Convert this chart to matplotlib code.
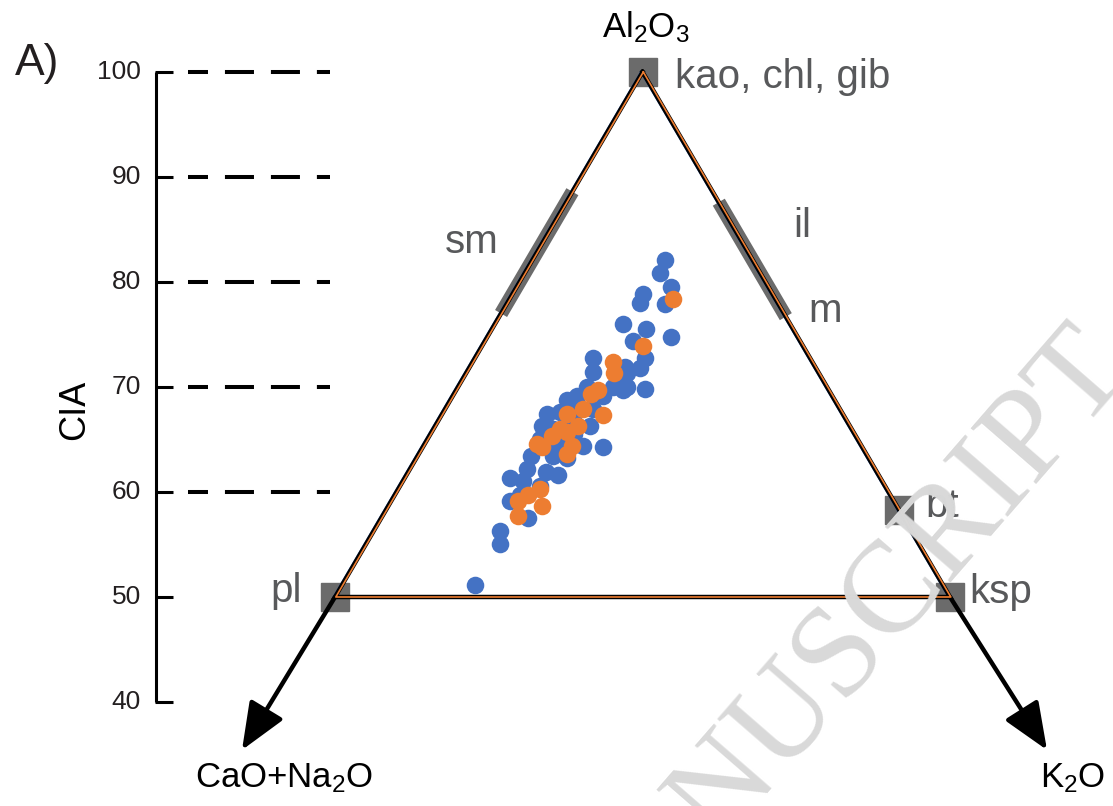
import matplotlib
matplotlib.use('Agg')
import matplotlib.pyplot as plt
import matplotlib.transforms as mtransforms

plt.rcParams['font.family'] = ['Liberation Sans', 'DejaVu Sans']
plt.rcParams['mathtext.fontset'] = 'custom'
plt.rcParams['mathtext.rm'] = 'Liberation Sans'
plt.rcParams['mathtext.it'] = 'Liberation Sans:italic'
plt.rcParams['lines.scale_dashes'] = False

# sample compositions in molar %: A = Al2O3, K = K2O  (CN = 100 - A - K)
blue_A = [82.1, 80.9, 79.5, 78.9, 78.0, 77.9, 76.0, 75.5, 74.8, 74.4, 72.8, 72.8,
          71.4, 71.9, 71.8, 69.7, 69.8, 70.0, 69.1, 70.0, 69.1, 68.8, 67.9, 67.4,
          67.6, 66.3, 66.3, 65.0, 64.4, 64.3, 63.4, 63.4, 63.2, 62.2, 61.9, 61.6,
          61.3, 61.0, 60.6, 59.1, 57.5, 56.3, 55.0, 51.1, 68.5, 66.9, 66.0, 71.3,
          70.4, 65.0, 59.7, 64.6, 65.5, 70.0]
blue_K = [10.8, 11.0, 12.6, 10.6, 10.8, 12.9, 10.4, 12.5, 14.9, 12.0, 13.8, 9.6,
          10.3, 12.6, 13.9, 13.6, 15.3, 12.6, 12.2, 10.5, 10.1, 9.5, 12.0, 8.5,
          9.5, 8.7, 12.6, 9.2, 13.0, 14.6, 9.2, 11.0, 12.3, 9.5, 11.2, 12.3,
          8.6, 9.8, 11.4, 9.7, 11.9, 10.3, 10.9, 10.8, 9.9, 10.9, 9.7, 13.1,
          12.7, 10.8, 10.2, 10.6, 11.7, 13.7]

orange_A = [78.4, 73.9, 72.4, 71.3, 69.7, 69.3, 67.3, 67.9, 67.4, 66.3, 65.7,
            65.3, 64.3, 64.4, 63.6, 60.3, 59.7, 59.1, 58.7, 57.7, 66.0, 64.6]
orange_K = [13.3, 13.1, 11.4, 12.0, 11.5, 11.2, 13.1, 11.2, 10.2, 11.6, 11.0,
            10.0, 9.7, 12.1, 12.1, 11.5, 10.8, 10.3, 12.5, 11.0, 10.3, 9.1]

# mineral end-members
mineral_names = ['kao, chl, gib', 'pl', 'ksp', 'bt']
mineral_A = [100, 50, 50, 58.3]
mineral_K = [0, 0, 50, 41.7]

# mineral ranges along the triangle edges (A from, A to)
sm_A = [77.0, 88.6]   # A - CN edge
il_A = [76.7, 87.6]   # A - K edge

cia_ticks = [40, 50, 60, 70, 80, 90, 100]
cia_dashed = [60, 70, 80, 90, 100]

W, H = 1113, 806
BLUE = '#4472C4'
ORANGE = '#ED7D31'
GREY = '#6b6b6b'
GREY_TXT = '#58595b'


def tern(A, K):
    # upper half of the A-CN-K triangle, y axis is A (= CIA scale)
    return [k + a / 2 for a, k in zip(A, K)], list(A)


fig = plt.figure(figsize=(W / 100, H / 100), dpi=100)
ax = fig.add_axes([0, 0, 1, 1])
ax.set_xlim(-2.236, 88.25)
ax.set_ylim(30.095, 106.857)
ax.axis('off')


def px(x, y):
    return ax.transData.inverted().transform((x, H - y))


# watermark
fig.text(833 / W, 1 - 666 / H, 'MANUSCRIPT', rotation=49, fontsize=94,
         family='Liberation Serif', color='#d9d9d9', ha='center', va='center',
         rotation_mode='anchor', zorder=0)

# CIA scale
x_axis = px(156, 0)[0]
x_tick = px(173, 0)[0]
ax.plot([x_axis, x_axis], [min(cia_ticks), max(cia_ticks)], color='black',
        lw=2.2, solid_capstyle='butt')
x_lbl = px(141, 0)[0]
for v in cia_ticks:
    ax.plot([x_axis - 0.1, x_tick], [v, v], color='black', lw=2.2,
            solid_capstyle='butt')
    ax.text(x_lbl, v, str(v), ha='right', va='center', fontsize=19,
            color='#231f20')
x0, x1 = px(188, 0)[0], px(330, 0)[0]
for v in cia_dashed:
    ax.plot([x0, x1], [v, v], color='black', lw=2.9,
            ls=(6.5, (20.9, 12.2)), dash_capstyle='butt')
cx, cy = px(75, 410)
ax.text(cx, cy, 'CIA', rotation=90, ha='center', va='center', fontsize=26)

# edge ranges and mineral squares
tx, ty = tern(sm_A, [0, 0])
ax.plot(tx, ty, color=GREY, lw=10, solid_capstyle='butt', zorder=2)
tx, ty = tern(il_A, [100 - a for a in il_A])
ax.plot(tx, ty, color=GREY, lw=10, solid_capstyle='butt', zorder=2)
mx, my = tern(mineral_A, mineral_K)
ax.plot(mx, my, 's', color=GREY, ms=19.5, zorder=2)

# triangle outline
corner_A = [100, 50, 50, 100]
corner_K = [0, 0, 50, 0]
trx, try_ = tern(corner_A, corner_K)
shift_l = mtransforms.offset_copy(ax.transData, fig=fig, x=-1.8, y=0, units='dots')
shift_r = mtransforms.offset_copy(ax.transData, fig=fig, x=0.8, y=0, units='dots')
ax.plot(trx, try_, color=BLUE, lw=1.1, transform=shift_l, zorder=3)
ax.plot(trx, try_, color='black', lw=3.2, zorder=4, solid_joinstyle='miter')
ax.plot(trx, try_, color=ORANGE, lw=1.2, transform=shift_r, zorder=5)

# axis arrows towards CN and K
for (sx, sy), (ex, ey) in [((25, 50), px(242, 750)), ((75, 50), px(1047, 750))]:
    ax.annotate('', xy=(ex, ey), xytext=(sx, sy),
                arrowprops=dict(arrowstyle='-|>,head_length=1.45,head_width=0.6',
                                mutation_scale=20, color='black', lw=3.2,
                                shrinkA=0, shrinkB=0), zorder=3)

# samples
bx, by = tern(blue_A, blue_K)
ax.scatter(bx, by, s=160, color=BLUE, linewidths=0, zorder=6)
ox, oy = tern(orange_A, orange_K)
ax.scatter(ox, oy, s=160, color=ORANGE, linewidths=0, zorder=7)

# labels
labels = [('kao, chl, gib', 675, 88), ('sm', 445, 253), ('il', 793, 237),
          ('m', 808, 322), ('bt', 925, 517), ('ksp', 969, 603), ('pl', 270, 602)]
for s, lx, ly in labels:
    x, y = px(lx, ly)
    ax.text(x, y, s, ha='left', va='baseline', fontsize=29, color=GREY_TXT)

x, y = px(646, 37)
ax.text(x, y, r'Al$_{\mathregular{2}}$O$_{\mathregular{3}}$', ha='center',
        va='baseline', fontsize=25)
x, y = px(195, 787)
ax.text(x, y, r'CaO+Na$_{\mathregular{2}}$O', ha='left', va='baseline', fontsize=25)
x, y = px(1040, 787)
ax.text(x, y, r'K$_{\mathregular{2}}$O', ha='left', va='baseline', fontsize=25)
x, y = px(15, 75)
ax.text(x, y, 'A)', ha='left', va='baseline', fontsize=32, color='#231f20')

fig.savefig('out.png', dpi=100)
